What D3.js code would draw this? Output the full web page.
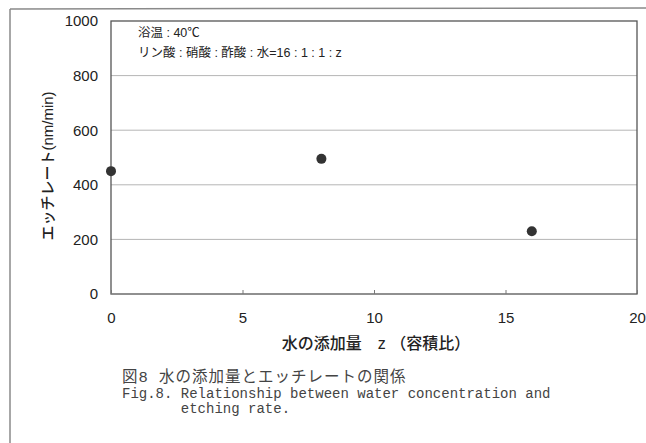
<!DOCTYPE html>
<html>
<head>
<meta charset="utf-8">
<script src="https://cdn.jsdelivr.net/npm/d3@7"></script>
<style>
  body { margin: 0; background: #fff; }
  svg { display: block; }
</style>
</head>
<body>
<div id="chart"></div>
<script>
// water added (z) vs etching rate
var waterZ = [0, 8, 16];
var etchRate = [450, 495, 230];
var xTicks = [0, 5, 10, 15, 20];
var yTicks = [0, 200, 400, 600, 800, 1000];
var notes = ["浴温 : 40℃", "リン酸 : 硝酸 : 酢酸 : 水=16 : 1 : 1 : z"];
var captions = ["図8 水の添加量とエッチレートの関係",
                "Fig.8. Relationship between water concentration and",
                "       etching rate."];

var W = 646, H = 443;
var plot = {left: 111, top: 21, right: 637, bottom: 294};

var svg = d3.select("#chart").append("svg")
    .attr("width", W).attr("height", H);

var sans = "'Liberation Sans', Arial, 'Noto Sans CJK JP', sans-serif";

// scanned page frame
svg.append("line").attr("x1", 10).attr("y1", 9).attr("x2", W).attr("y2", 8)
    .attr("stroke", "#8a8a8a").attr("stroke-width", 1.5);
svg.append("line").attr("x1", 10).attr("y1", 9).attr("x2", 10).attr("y2", H)
    .attr("stroke", "#8a8a8a").attr("stroke-width", 1.5);

var x = d3.scaleLinear().domain([0, 20]).range([plot.left, plot.right]);
var y = d3.scaleLinear().domain([0, 1000]).range([plot.bottom, plot.top]);

// gridlines
svg.append("g").selectAll("line")
    .data(yTicks.filter(function(d) { return d > 0 && d < 1000; }))
    .enter().append("line")
    .attr("x1", plot.left).attr("x2", plot.right)
    .attr("y1", function(d) { return y(d); })
    .attr("y2", function(d) { return y(d); })
    .attr("stroke", "#b5b5b5").attr("stroke-width", 1);

// plot box
svg.append("rect")
    .attr("x", plot.left).attr("y", plot.top)
    .attr("width", plot.right - plot.left).attr("height", plot.bottom - plot.top)
    .attr("fill", "none").attr("stroke", "#555").attr("stroke-width", 1.3);

// y axis
var yAxis = svg.append("g")
    .attr("transform", "translate(" + plot.left + ",0)")
    .call(d3.axisLeft(y).tickValues(yTicks).tickFormat(d3.format("d"))
        .tickSize(0).tickPadding(13));
yAxis.select(".domain").remove();
yAxis.selectAll("text")
    .attr("font-family", sans).attr("font-size", 15).attr("fill", "#222");

// x axis
var xAxis = svg.append("g")
    .attr("transform", "translate(0," + plot.bottom + ")")
    .call(d3.axisBottom(x).tickValues(xTicks).tickSize(-4).tickPadding(18));
xAxis.select(".domain").remove();
xAxis.selectAll("line").attr("stroke", "#777");
xAxis.selectAll("text")
    .attr("font-family", sans).attr("font-size", 15).attr("fill", "#222");

// points
svg.append("g").selectAll("circle")
    .data(waterZ)
    .enter().append("circle")
    .attr("cx", function(d) { return x(d); })
    .attr("cy", function(d, i) { return y(etchRate[i]); })
    .attr("r", 5)
    .attr("fill", "#333");

// annotations in the plot
svg.append("g").selectAll("text")
    .data(notes)
    .enter().append("text")
    .attr("x", 138)
    .attr("y", function(d, i) { return 37 + i * 20; })
    .attr("font-family", sans).attr("font-size", 12.5).attr("fill", "#222")
    .attr("xml:space", "preserve")
    .style("white-space", "pre")
    .text(function(d) { return d; });

// axis titles
svg.append("text")
    .attr("transform", "translate(53,166) rotate(-90)")
    .attr("text-anchor", "middle")
    .attr("font-family", sans).attr("font-size", 15).attr("font-weight", 500)
    .attr("fill", "#222")
    .text("エッチレート(nm/min)");

svg.append("text")
    .attr("x", 376).attr("y", 349)
    .attr("text-anchor", "middle")
    .attr("font-family", sans).attr("font-size", 16).attr("font-weight", 500)
    .attr("fill", "#222")
    .attr("xml:space", "preserve")
    .style("white-space", "pre")
    .text("水の添加量　z （容積比）");

// figure caption
svg.append("g").selectAll("text")
    .data(captions)
    .enter().append("text")
    .attr("x", 122)
    .attr("y", function(d, i) { return 382 + i * 15.5; })
    .attr("font-family", "'Liberation Mono', 'Noto Sans CJK JP', monospace")
    .attr("font-size", function(d, i) { return i == 0 ? 15.5 : 14; })
    .attr("letter-spacing", function(d, i) { return i == 0 ? 1 : 0; })
    .attr("fill", "#444")
    .attr("xml:space", "preserve")
    .style("white-space", "pre")
    .text(function(d) { return d; });
</script>
</body>
</html>
